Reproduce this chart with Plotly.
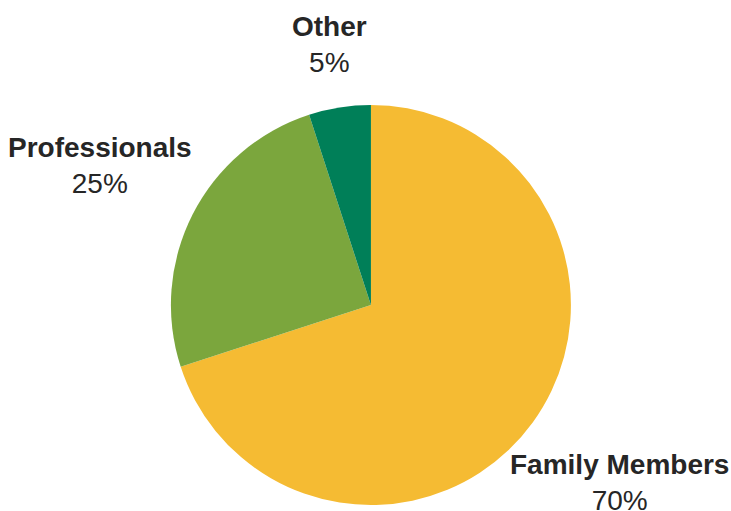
import plotly.graph_objects as go

labels = ["Family Members", "Professionals", "Other"]
values = [70, 25, 5]
colors = ["#F5BB33", "#7BA63D", "#007F58"]

# label placement (paper coords) for the outside text blocks
label_x = [0.8468, 0.1368, 0.4514]
label_y = [0.055, 0.677, 0.912]

fig = go.Figure(go.Pie(
    labels=labels,
    values=values,
    marker=dict(colors=colors, line=dict(width=0)),
    sort=False,
    direction="clockwise",
    rotation=0,
    textinfo="none",
    hoverinfo="label+percent",
    domain=dict(x=[0.2338, 0.781], y=[0.0117, 0.7945]),
    showlegend=False,
))

total = sum(values)
for lab, v, x, y in zip(labels, values, label_x, label_y):
    fig.add_annotation(
        x=x, y=y, xref="paper", yref="paper",
        text=f"<b>{lab}</b><br>{round(100 * v / total)}%",
        showarrow=False, xanchor="center", yanchor="middle",
        font=dict(family="Liberation Sans, Arial, sans-serif", size=28, color="#262626"),
        align="center",
    )

fig.update_layout(
    width=731, height=511,
    margin=dict(l=0, r=0, t=0, b=0),
    paper_bgcolor="white", plot_bgcolor="white",
)

fig.write_html(
    "out.html",
    config={"displayModeBar": False},
    post_script="document.body.style.margin='0';document.body.style.overflow='hidden';",
)
